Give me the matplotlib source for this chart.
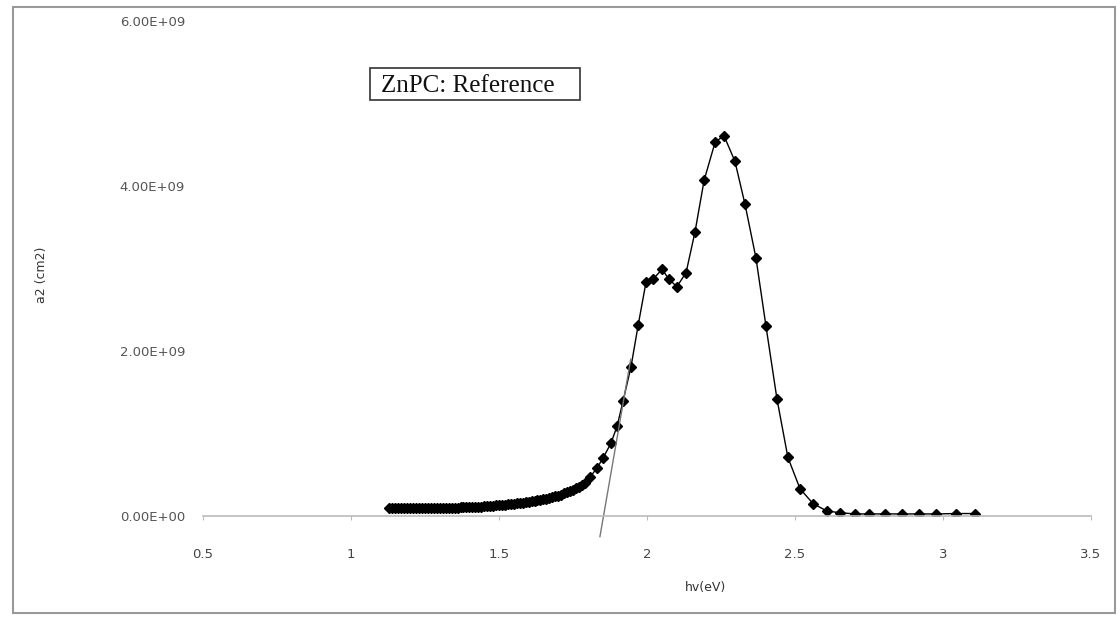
import numpy as np
import matplotlib
matplotlib.use("Agg")
from matplotlib import pyplot as plt
from matplotlib.patches import Rectangle

# dense low-energy band (hv in eV, a2 in units of 1e8 cm^-2)
hv_low = [1.13, 1.14, 1.15, 1.16, 1.17, 1.18, 1.19, 1.20, 1.21, 1.22,
          1.23, 1.24, 1.25, 1.26, 1.27, 1.28, 1.29, 1.30, 1.31, 1.32,
          1.33, 1.34, 1.35, 1.36, 1.37, 1.38, 1.39, 1.40, 1.41, 1.42,
          1.43, 1.44, 1.45, 1.46, 1.47, 1.48, 1.49, 1.50, 1.51, 1.52,
          1.53, 1.54, 1.55, 1.56, 1.57, 1.58, 1.59, 1.60, 1.61, 1.62,
          1.63, 1.64, 1.65, 1.66, 1.67, 1.68, 1.69, 1.70, 1.71, 1.72,
          1.73, 1.74, 1.75, 1.76, 1.77, 1.78, 1.79]
a2_low = [0.93, 0.93, 0.93, 0.93, 0.94, 0.94, 0.94, 0.95, 0.95, 0.95,
          0.96, 0.96, 0.96, 0.97, 0.97, 0.98, 0.98, 0.99, 1.00, 1.00,
          1.01, 1.02, 1.03, 1.03, 1.04, 1.05, 1.06, 1.08, 1.09, 1.11,
          1.13, 1.15, 1.17, 1.20, 1.23, 1.26, 1.29, 1.32, 1.35, 1.39,
          1.43, 1.47, 1.50, 1.54, 1.58, 1.62, 1.67, 1.72, 1.77, 1.83,
          1.89, 1.95, 2.02, 2.10, 2.18, 2.27, 2.37, 2.48, 2.60, 2.73,
          2.87, 3.02, 3.18, 3.35, 3.54, 3.75, 4.05]

# individual points (hv in eV, a2 in units of 1e9 cm^-2)
hv_peak = [1.807, 1.831, 1.851, 1.878, 1.899, 1.919, 1.946, 1.970, 1.997, 2.020,
           2.051, 2.074, 2.101, 2.132, 2.162, 2.193, 2.230, 2.260, 2.297, 2.331,
           2.368, 2.402, 2.439, 2.476, 2.517, 2.561, 2.608, 2.652, 2.703, 2.750,
           2.804, 2.861, 2.919, 2.976, 3.044, 3.108]
a2_peak = [0.47, 0.58, 0.70, 0.88, 1.09, 1.39, 1.81, 2.31, 2.84, 2.87,
           2.99, 2.87, 2.78, 2.95, 3.44, 4.07, 4.53, 4.61, 4.30, 3.78,
           3.13, 2.30, 1.42, 0.71, 0.33, 0.15, 0.06, 0.04, 0.025, 0.025,
           0.025, 0.025, 0.025, 0.025, 0.03, 0.03]

# tangent line used for the gap estimate
tangent_hv = [1.841, 1.945]
tangent_a2 = [-0.25, 1.90]

x_ticks = [0.5, 1, 1.5, 2, 2.5, 3, 3.5]
x_ticklabels = ["0.5", "1", "1.5", "2", "2.5", "3", "3.5"]
y_ticks = [0, 2e9, 4e9, 6e9]
y_ticklabels = ["0.00E+00", "2.00E+09", "4.00E+09", "6.00E+09"]

hv = np.array(hv_low + hv_peak)
a2 = np.concatenate([np.array(a2_low) * 1e8, np.array(a2_peak) * 1e9])

fig = plt.figure(figsize=(11.2, 6.17), dpi=100)
ax = fig.add_axes([203 / 1120, 1 - 516 / 617, (1091 - 203) / 1120, (516 - 21) / 617])

ax.plot(hv, a2, color="black", lw=1.0, marker="D", ms=5, mfc="black", mec="black")
ax.plot(tangent_hv, np.array(tangent_a2) * 1e9, color="#777777", lw=1.0, clip_on=False)

ax.set_xlim(0.5, 3.5)
ax.set_ylim(0, 6e9)
ax.set_xticks(x_ticks)
ax.set_xticklabels(x_ticklabels, family="DejaVu Sans", fontsize=9.5, color="#444444")
ax.set_yticks(y_ticks)
ax.set_yticklabels(y_ticklabels, family="DejaVu Sans", fontsize=9.5, color="#555555")
ax.tick_params(axis="y", length=0, pad=13)
ax.tick_params(axis="x", length=3, color="#bbbbbb", pad=20)
for s in ["top", "right", "left"]:
    ax.spines[s].set_visible(False)
ax.spines["bottom"].set_color("#bbbbbb")
ax.spines["bottom"].set_linewidth(1.2)

fig.text(42 / 1120, 1 - 275 / 617, "a2 (cm2)", rotation=90, ha="center", va="center",
         fontsize=9, color="#333333")
fig.text(705 / 1120, 1 - 588 / 617, "hv(eV)", ha="center", va="center",
         fontsize=9, color="#333333")

# title box
fig.patches.append(Rectangle((370 / 1120, 1 - 100 / 617), 210 / 1120, 32 / 617,
                             transform=fig.transFigure, fill=False, ec="#333333", lw=1.2))
fig.text(468 / 1120, 1 - 86 / 617, "ZnPC: Reference", ha="center", va="center",
         family="Liberation Serif", fontsize=18, color="#111111")

# outer chart border
fig.patches.append(Rectangle((13 / 1120, 1 - 613 / 617), 1102 / 1120, 606 / 617,
                             transform=fig.transFigure, fill=False, ec="#999999", lw=1.5))

fig.savefig("out.png", dpi=100)
